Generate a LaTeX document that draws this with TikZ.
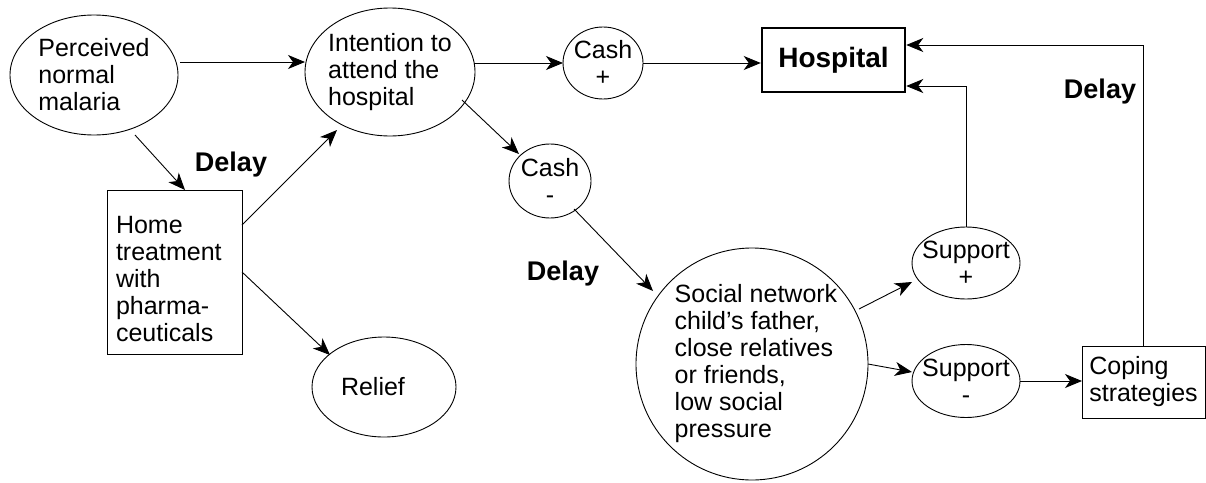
\documentclass[tikz,border=0pt]{standalone}
\usepackage{fontspec}
\setmainfont{Liberation Sans}
\usetikzlibrary{shapes.geometric,arrows.meta,calc}
\begin{document}
\begin{tikzpicture}[x=1pt,y=-1pt,
  every node/.style={font=\fontsize{25}{27}\selectfont},
  ell/.style={draw, ellipse, line width=0.9pt, inner sep=0pt, outer sep=0pt},
  box/.style={draw, rectangle, line width=0.9pt, inner sep=0pt, outer sep=0pt},
  arr/.style={line width=0.9pt, -{Stealth[length=17pt,width=14pt,inset=5pt]}},
  delaylbl/.style={font=\fontsize{27}{30}\selectfont\bfseries, inner sep=0pt},
  txt/.style={align=left, inner sep=0pt},
  ctxt/.style={align=center, inner sep=0pt},
  ]
\useasboundingbox (0,0) rectangle (1206,482);

% nodes
\node[ell, minimum width=168pt, minimum height=120pt,
      label={[txt]center:{Perceived\\normal\\malaria}}] (perc) at (94,75) {};
\node[ell, minimum width=170pt, minimum height=128pt,
      label={[txt]center:{Intention to\\attend the\\hospital}}] (int) at (390,72) {};
\node[box, minimum width=135pt, minimum height=164pt,
      label={[txt, text width=117pt, yshift=-7pt]center:{Home\\treatment\\with\\pharma-\\ceuticals}}] (home) at (174.5,272) {};
\node[ell, minimum width=144pt, minimum height=100pt,
      label={[ctxt, xshift=-11pt]center:{Relief}}] (relief) at (384,387) {};
\node[ell, minimum width=80pt, minimum height=72pt,
      label={[ctxt]center:{Cash\\+}}] (cashp) at (603,63) {};
\node[ell, minimum width=82pt, minimum height=74pt,
      label={[ctxt]center:{Cash\\-}}] (cashm) at (550,181) {};
\node[draw, rectangle, line width=2.5pt, inner sep=0pt, minimum width=143pt, minimum height=64pt,
      font=\fontsize{28}{30}\selectfont\bfseries] (hosp) at (833.5,60) {Hospital};
\node[ell, circle, minimum size=232pt,
      label={[txt, xshift=4pt]center:{Social network\\child’s father,\\close relatives\\or friends,\\low social\\pressure}}] (social) at (752,364) {};
\node[ell, minimum width=108pt, minimum height=72pt,
      label={[ctxt]center:{Support\\+}}] (suppp) at (966,263) {};
\node[ell, minimum width=108pt, minimum height=73pt,
      label={[ctxt]center:{Support\\-}}] (suppm) at (966,381) {};
\node[box, minimum width=123pt, minimum height=72pt,
      label={[txt]center:{Coping\\strategies}}] (coping) at (1143.5,382) {};

\node[delaylbl] (d1) at (231,165) {Delay};
\node[delaylbl] (d2) at (563,274) {Delay};
\node[delaylbl] (d3) at (1100,92) {Delay};

% connectors
\draw[arr] ([shift={(86,-13)}]perc.center) -- ([shift={(-85,-10)}]int.center);
\draw[arr] ([shift={(41,60)}]perc.center) -- ([xshift=10.5pt]home.north);
\draw[arr] ([yshift=47pt]home.east) -- ([shift={(-53,58)}]int.center);
\draw[arr] (home.east) -- ([shift={(-54,-32)}]relief.center);
\draw[arr] ([shift={(84,-9)}]int.center) -- (cashp.west);
\draw[arr] (cashp.east) -- (cashp.east -| hosp.west);
\draw[arr] ([shift={(72,28)}]int.center) -- ([shift={(-31,-27)}]cashm.center);
\draw[arr] ([shift={(24,28)}]cashm.center) -- ([shift={(-99,-73)}]social.center);
\draw[arr] ([shift={(107,-55)}]social.center) -- ([shift={(-54,19)}]suppp.center);
\draw[arr] (social.east) -- ([shift={(-54,-9)}]suppm.center);
\draw[arr] (suppm.east) -- (suppm.east -| coping.west);
\draw[arr] (suppp.north) |- ([yshift=-26pt]hosp.east);
\draw[arr] (coping.north) |- ([yshift=15pt]hosp.east);
\end{tikzpicture}
\end{document}
